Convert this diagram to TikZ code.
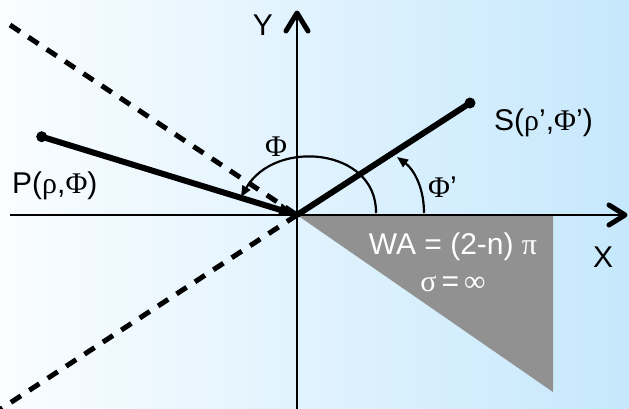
\documentclass[tikz,border=0pt]{standalone}
\usepackage{fontspec}
\setmainfont{Liberation Sans}
\newfontfamily\grk{Liberation Serif}
\newcommand\gr[1]{{\grk #1}}
\usetikzlibrary{arrows.meta}
\definecolor{bgL}{RGB}{250,253,255}
\definecolor{bgR}{RGB}{198,232,252}
\definecolor{wedge}{RGB}{145,145,145}
\begin{document}
\begin{tikzpicture}[x=1pt,y=-1pt,
  axis/.style={line width=2.2pt},
  chevron/.style={line width=5pt,line cap=round,line join=round},
  dashline/.style={line width=5pt,dash pattern=on 12pt off 10pt},
  radius line/.style={line width=6pt},
  vecline/.style={line width=6pt,-{Triangle[length=16pt,width=12pt]},shorten >=2pt},
  anglearc/.style={line width=2.2pt,-{Triangle[length=11pt,width=9pt]}},
  lbl/.style={font=\fontsize{30}{36}\selectfont,inner sep=0pt},
  wlbl/.style={lbl,text=white},
  dot/.style={circle,fill=black,inner sep=0pt,minimum size=11pt}]
\shade[left color=bgL,right color=bgR] (0,0) rectangle (629,408);
\useasboundingbox (0,0) rectangle (629,408);
% coordinates
\coordinate (O) at (297,215);
\coordinate (Xs) at (10,215);
\coordinate (Xe) at (625,215);
\coordinate (Ys) at (297,410);
\coordinate (Ye) at (297,13);
\coordinate (D1) at (10,25);
\coordinate (D2) at (0,409.5);
\coordinate (T1) at (553,215);
\coordinate (T2) at (553,392);
\coordinate (PhiA) at (376,213);
\coordinate (PhiB) at (241,197);
\coordinate (PhpA) at (424,213);
\coordinate (PhpB) at (397,157);
% wedge
\fill[wedge] (O) -- (T1) -- (T2) -- cycle;
% dashed lines
\draw[dashline] (D1) -- (O);
\draw[dashline] (O) -- (D2);
% axes
\draw[axis] (Xs) -- (Xe);
\draw[axis] (Ys) -- (Ye);
\draw[chevron] ([shift={(-16,-10)}]Xe) -- (Xe) -- ([shift={(-16,10)}]Xe);
\draw[chevron] ([shift={(-11,18)}]Ye) -- (Ye) -- ([shift={(11,18)}]Ye);
% points
\node[dot] (P) at (41.7,136.7) {};
\node[dot] (S) at (470,103) {};
\draw[vecline] (P.center) -- (O);
\draw[radius line] (O) -- (S.center);
% angle arcs
\draw[anglearc] (PhiA) .. controls (377,148) and (275,138) .. (PhiB);
\draw[anglearc] (PhpA) .. controls (424,185) and (412,168) .. (PhpB);
% labels
\node[lbl,anchor=base] (Ylab) at (263,35) {Y};
\node[lbl,anchor=base] (Xlab) at (603,267) {X};
\node[lbl,anchor=base west] (Plab) at (12,193) {P(\gr{ρ},\gr{Φ})};
\node[lbl,anchor=base west] (Slab) at (494,130) {S(\gr{ρ}’,\gr{Φ}’)};
\node[lbl,anchor=base] (Philab) at (276,156) {\gr{Φ}};
\node[lbl,anchor=base west] (Phplab) at (428,197) {\gr{Φ}’};
\node[wlbl,anchor=base] (WA) at (453,254) {WA = (2-n) \gr{π}};
\node[wlbl,anchor=base] (sig) at (453,291) {\gr{σ}\,=\,\gr{∞}};
\end{tikzpicture}
\end{document}
